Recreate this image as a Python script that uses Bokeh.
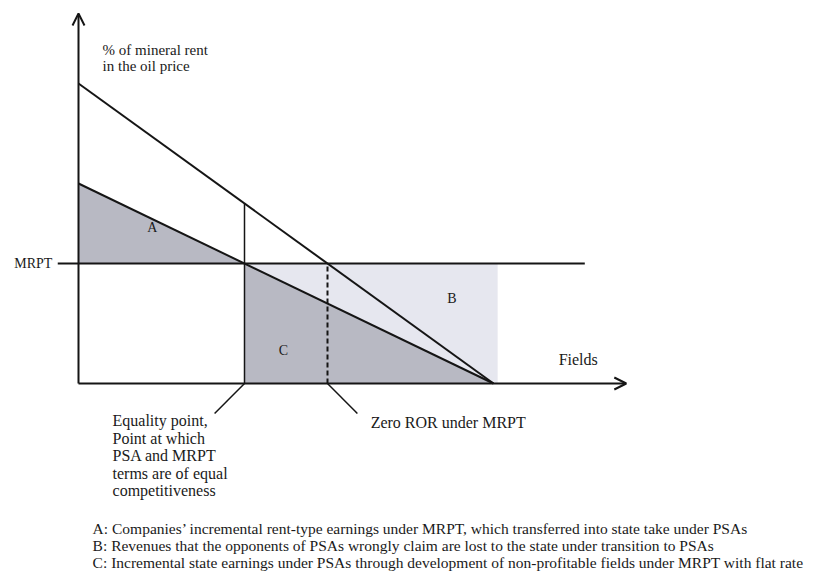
from bokeh.plotting import figure
from bokeh.models import Range1d, Label, Arrow, OpenHead
from bokeh.embed import file_html
from bokeh.resources import INLINE

# ---- schematic data (units: fields on x, % of rent on y) ----
high_rent_x = [0, 10]      # upper line (total rent share)
high_rent_y = [15, 0]
low_rent_x = [0, 10]       # lower line (PSA-equivalent share)
low_rent_y = [10, 0]
mrpt_level = 6             # flat MRPT rate
b_region_right = 10.1      # right edge of area B
mrpt_line_x = [-0.5, 12.2]
x_axis_end = 13.2
y_axis_end = 18.5

footnotes = [
    "A: Companies\u2019 incremental rent-type earnings under MRPT, which transferred into state take under PSAs",
    "B: Revenues that the opponents of PSAs wrongly claim are lost to the state under transition to PSAs",
    "C: Incremental state earnings under PSAs through development of non-profitable fields under MRPT with flat rate",
]
equality_text = ["Equality point,", "Point at which", "PSA and MRPT",
                 "terms are of equal", "competitiveness"]
y_title = ["% of mineral rent", "in the oil price"]


def x_at(xs, ys, level):
    # x where a straight line crosses a given y level
    return xs[0] + (level - ys[0]) * (xs[1] - xs[0]) / (ys[1] - ys[0])


def y_at(xs, ys, x):
    return ys[0] + (x - xs[0]) * (ys[1] - ys[0]) / (xs[1] - xs[0])


eq_x = x_at(low_rent_x, low_rent_y, mrpt_level)       # equality point
zero_ror_x = x_at(high_rent_x, high_rent_y, mrpt_level)  # zero ROR under MRPT
end_x = low_rent_x[1]

W, H = 815, 571
PXX = 41.5  # px per x unit
PXY = 20.0  # px per y unit
OX, OY = 78, 383  # canvas position of origin

p = figure(width=W, height=H, output_backend="svg", toolbar_location=None,
           x_range=Range1d((0 - OX) / PXX, (W - OX) / PXX),
           y_range=Range1d((OY - H) / PXY, OY / PXY),
           x_axis_type=None, y_axis_type=None, min_border=0)
p.grid.visible = False
p.outline_line_color = None
p.background_fill_color = "white"

dark = "#b8b9c3"
light = "#e6e7ef"
ink = "#151515"

# B region (light)
p.patch([eq_x, b_region_right, b_region_right, eq_x],
        [mrpt_level, mrpt_level, 0, 0], fill_color=light, line_color=None)
# A region
p.patch([0, 0, eq_x], [low_rent_y[0], mrpt_level, mrpt_level],
        fill_color=dark, line_color=None)
# C region
p.patch([eq_x, eq_x, end_x], [mrpt_level, 0, 0], fill_color=dark, line_color=None)

# lines
p.line(high_rent_x, high_rent_y, line_color=ink, line_width=2)
p.line(low_rent_x, low_rent_y, line_color=ink, line_width=2)
p.line(mrpt_line_x, [mrpt_level, mrpt_level], line_color=ink, line_width=2)
p.line([eq_x, eq_x], [0, y_at(high_rent_x, high_rent_y, eq_x)], line_color=ink, line_width=1.5)
p.line([zero_ror_x, zero_ror_x], [0, mrpt_level], line_color=ink, line_width=2,
       line_dash="5 3")

# axes with arrows
p.add_layout(Arrow(end=OpenHead(size=12, line_width=2, line_color=ink),
                   x_start=0, y_start=0, x_end=x_axis_end, y_end=0,
                   line_width=2, line_color=ink))
p.add_layout(Arrow(end=OpenHead(size=12, line_width=2, line_color=ink),
                   x_start=0, y_start=0, x_end=0, y_end=y_axis_end,
                   line_width=2, line_color=ink))

# leader lines
p.line([eq_x, eq_x - 0.72], [0, -1.5], line_color=ink, line_width=1.5)
p.line([zero_ror_x, zero_ror_x + 0.72], [0, -1.5], line_color=ink, line_width=1.5)

FONT = "Liberation Serif"


def lab(x, y, t, size="15px", align="left", baseline="middle"):
    p.add_layout(Label(x=x, y=y, text=t, text_font=FONT, text_font_size=size,
                       text_align=align, text_baseline=baseline, text_color="#1a1a1a"))


lab(1.78, 7.8, "A", size="14px", align="center")
lab(9.0, 4.25, "B", size="14px", align="center")
lab(4.94, 1.65, "C", size="14px", align="center")
lab(11.57, 1.2, "Fields", size="16px")
lab(-0.63, mrpt_level, "MRPT", size="14px", align="right")
for i, t in enumerate(y_title):
    lab(0.58, 16.7 - i * 0.8, t, size="15px")
for i, t in enumerate(equality_text):
    lab(0.82, -1.85 - i * 0.875, t, size="16px")
lab(7.04, -1.95, "Zero ROR under MRPT", size="16px")
for i, t in enumerate(footnotes):
    lab(0.34, -7.25 - i * 0.86, t, size="15.5px")

open("out.html", "w").write(file_html(p, INLINE))
